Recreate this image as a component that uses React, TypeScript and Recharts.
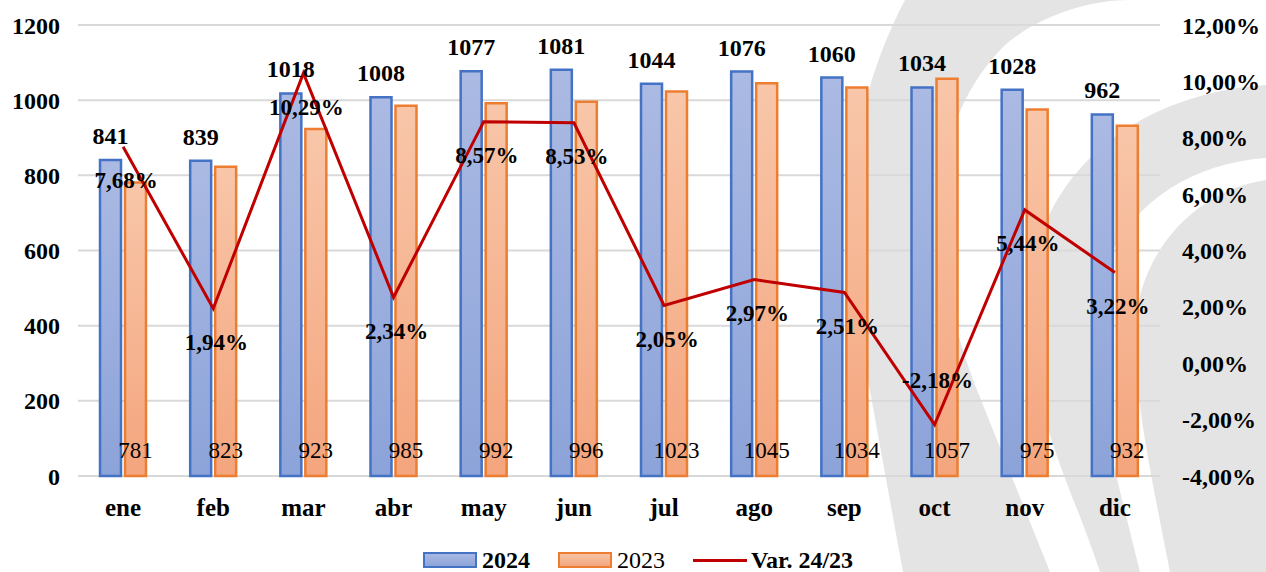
import React from "react"
import {
  ComposedChart,
  Bar,
  Line,
  XAxis,
  YAxis,
  CartesianGrid,
  Legend,
  LabelList,
} from "recharts"

const months = ["ene", "feb", "mar", "abr", "may", "jun", "jul", "ago", "sep", "oct", "nov", "dic"]
const values2024 = [841, 839, 1018, 1008, 1077, 1081, 1044, 1076, 1060, 1034, 1028, 962]
const values2023 = [781, 823, 923, 985, 992, 996, 1023, 1045, 1034, 1057, 975, 932]
const variation = [7.68, 1.94, 10.29, 2.34, 8.57, 8.53, 2.05, 2.97, 2.51, -2.18, 5.44, 3.22]

const leftTicks = [0, 200, 400, 600, 800, 1000, 1200]
const rightTicks = [-4, -2, 0, 2, 4, 6, 8, 10, 12]

const FONT = "'Liberation Serif', 'DejaVu Serif', serif"

const data = months.map((m, i) => ({
  month: m,
  y2024: values2024[i],
  y2023: values2023[i],
  v: variation[i],
}))

const pct = (v: number) => `${v.toFixed(2).replace(".", ",")}%`

// percentage labels sit under the point, except negatives which go above
const VarLabel = (props: any) => {
  const { x, y, value } = props
  const below = value >= 0
  return (
    <text
      x={x + 3}
      y={below ? y + 34 : y - 44}
      textAnchor="middle"
      dominantBaseline="central"
      fontFamily={FONT}
      fontWeight="bold"
      fontSize={23}
      fill="#000"
    >
      {pct(value)}
    </text>
  )
}

const LegendContent = () => (
  <div
    style={{
      display: "flex",
      justifyContent: "center",
      alignItems: "center",
      fontFamily: FONT,
      fontSize: 24,
      color: "#000",
      height: 24,
      paddingLeft: 10,
    }}
  >
    <span style={{ display: "inline-block", width: 50, height: 12, background: "linear-gradient(#a9b8e2,#8ea5da)", border: "2px solid #4472C4", marginRight: 5 }} />
    <span style={{ fontWeight: "bold", marginRight: 28 }}>2024</span>
    <span style={{ display: "inline-block", width: 50, height: 12, background: "linear-gradient(#f7c3a5,#f4a77f)", border: "2px solid #ED7D31", marginRight: 5 }} />
    <span style={{ marginRight: 28 }}>2023</span>
    <span style={{ display: "inline-block", width: 54, height: 3, background: "#C00000", marginRight: 4 }} />
    <span style={{ fontWeight: "bold" }}>Var. 24/23</span>
  </div>
)

// rough copy of the grey logo sitting behind the plot
const Watermark = () => (
  <svg width={1266} height={572} style={{ position: "absolute", left: 0, top: 0 }}>
    <g fill="#e4e4e4" stroke="none">
      <path d="M 905 0 C 852 100, 835 220, 868 380 L 903 572 L 1050 572 L 975 385 C 928 260, 920 130, 1005 45 C 1040 15, 1090 0, 1130 0 Z" />
      <path d="M 1266 85 C 1120 95, 1030 190, 1030 300 C 1030 420, 1070 480, 1100 572 L 1266 572 Z" />
    </g>
    <path
      d="M 1266 158 C 1165 165, 1095 235, 1095 325 C 1095 400, 1115 470, 1140 572 L 1170 572 C 1150 470, 1135 400, 1135 335 C 1135 255, 1195 190, 1266 180 Z"
      fill="#fff"
    />
  </svg>
)

export default function App() {
  return (
    <div style={{ position: "absolute", left: 0, top: 0, width: 1266, height: 572, background: "#fff" }}>
      <Watermark />
      <div style={{ position: "absolute", left: 0, top: 0 }}>
        <ComposedChart
          width={1266}
          height={572}
          data={data}
          margin={{ top: 25, right: 0, left: 0, bottom: 0 }}
          barSize={21}
          barGap={4}
        >
          <defs>
            <linearGradient id="g2024" x1="0" y1="0" x2="0" y2="1">
              <stop offset="0%" stopColor="#abbae3" />
              <stop offset="100%" stopColor="#8ca3d9" />
            </linearGradient>
            <linearGradient id="g2023" x1="0" y1="0" x2="0" y2="1">
              <stop offset="0%" stopColor="#f8c6a9" />
              <stop offset="100%" stopColor="#f4a57d" />
            </linearGradient>
          </defs>
          <CartesianGrid vertical={false} stroke="#d9d9d9" strokeWidth={2} yAxisId="left" />
          <XAxis
            dataKey="month"
            axisLine={false}
            tickLine={false}
            tickSize={0}
            tickMargin={22}
            height={72}
            tick={{ fontFamily: FONT, fontWeight: "bold", fontSize: 25, fill: "#000" }}
          />
          <YAxis
            yAxisId="left"
            domain={[0, 1200]}
            ticks={leftTicks}
            width={78}
            axisLine={false}
            tickLine={false}
            tickSize={0}
            tickMargin={18}
            tick={{ fontFamily: FONT, fontWeight: "bold", fontSize: 24, fill: "#000" }}
          />
          <YAxis
            yAxisId="right"
            orientation="right"
            domain={[-4, 12]}
            ticks={rightTicks}
            width={106}
            axisLine={false}
            tickLine={false}
            tickSize={0}
            tickMargin={22}
            tickFormatter={pct}
            tick={{ fontFamily: FONT, fontWeight: "bold", fontSize: 24, fill: "#000" }}
          />
          <Legend verticalAlign="bottom" height={24} content={<LegendContent />} />
          <Bar yAxisId="left" dataKey="y2024" fill="url(#g2024)" stroke="#4472C4" strokeWidth={2.5} isAnimationActive={false}>
            <LabelList
              dataKey="y2024"
              position="top"
              offset={16}
              style={{ fontFamily: FONT, fontWeight: "bold", fontSize: 24, fill: "#000" }}
            />
          </Bar>
          <Bar yAxisId="left" dataKey="y2023" fill="url(#g2023)" stroke="#ED7D31" strokeWidth={2.5} isAnimationActive={false}>
            <LabelList
              dataKey="y2023"
              position="insideBottom"
              offset={18}
              style={{ fontFamily: FONT, fontSize: 23, fill: "#000" }}
            />
          </Bar>
          <Line
            yAxisId="right"
            dataKey="v"
            stroke="#C00000"
            strokeWidth={3}
            dot={false}
            isAnimationActive={false}
          >
            <LabelList dataKey="v" content={<VarLabel />} />
          </Line>
        </ComposedChart>
      </div>
    </div>
  )
}
